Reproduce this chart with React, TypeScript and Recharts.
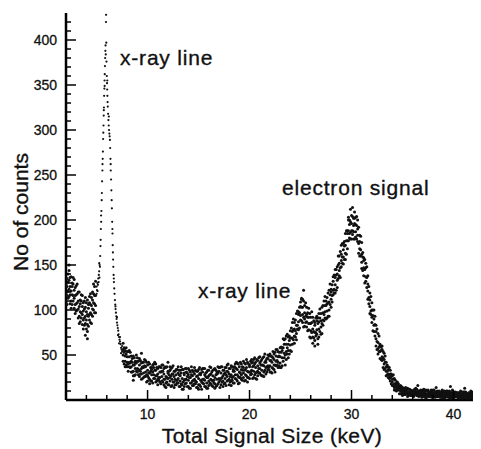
import React from 'react';
import { ScatterChart, Scatter, XAxis, YAxis } from 'recharts';

// rows: [keV, count, count, ...]
const lowRows: number[][] = [
  [2.0, 108, 128, 119, 140], [2.1, 135, 106, 126, 116], [2.2, 121, 140, 113, 131],
  [2.3, 144, 115, 133, 123], [2.4, 107, 126, 136, 117], [2.5, 121, 110, 137, 102],
  [2.6, 130, 117, 106, 126], [2.7, 110, 136, 116, 129], [2.8, 102, 122, 113, 134],
  [2.9, 125, 96, 116, 106], [3.0, 107, 127, 99, 117], [3.1, 129, 100, 118, 108],
  [3.2, 91, 110, 120, 101], [3.3, 104, 93, 120, 85], [3.4, 111, 98, 87, 107],
  [3.5, 91, 117, 97, 110], [3.6, 84, 104, 95, 116], [3.7, 108, 79, 99, 89],
  [3.8, 91, 110, 83, 101], [3.9, 114, 85, 103, 93], [4.0, 79, 98, 108, 89],
  [4.1, 95, 84, 111, 76], [4.2, 106, 93, 82, 102], [4.3, 89, 115, 95, 108],
  [4.4, 86, 106, 97, 118], [4.5, 114, 85, 105, 95], [4.6, 101, 120, 93, 111],
  [4.7, 129, 100, 118, 108], [4.8, 97, 116, 126, 107], [4.9, 116, 105, 132, 97],
];

// the x-ray spike, [keV, count]
const spikePoints: number[][] = [
  [5.0, 118], [5.0, 126], [5.04, 122], [5.08, 130], [5.1, 121], [5.13, 128], [5.16, 135],
  [5.2, 131], [5.22, 139], [5.25, 143], [5.26, 152], [5.28, 136], [5.3, 150], [5.33, 148],
  [5.35, 160], [5.38, 171], [5.4, 178], [5.42, 190], [5.44, 205], [5.45, 198], [5.47, 210],
  [5.5, 222], [5.52, 230], [5.54, 243], [5.57, 255], [5.58, 262], [5.6, 268], [5.62, 276],
  [5.64, 290], [5.66, 297], [5.68, 305], [5.7, 316], [5.71, 322], [5.72, 325], [5.74, 338],
  [5.76, 346], [5.78, 355], [5.79, 349], [5.8, 362], [5.82, 371], [5.84, 380], [5.86, 388],
  [5.88, 394], [5.9, 384], [5.92, 420], [5.93, 428], [5.95, 397], [5.97, 376], [6.0, 360],
  [6.02, 352], [6.04, 345], [6.05, 355], [6.06, 338], [6.08, 331], [6.1, 326], [6.13, 318],
  [6.16, 311], [6.19, 305], [6.2, 315], [6.22, 300], [6.25, 296], [6.28, 293], [6.31, 289],
  [6.33, 280], [6.36, 268], [6.38, 262], [6.39, 255], [6.42, 245], [6.45, 233], [6.48, 222],
  [6.5, 213], [6.53, 198], [6.55, 190], [6.56, 185], [6.58, 172], [6.6, 164], [6.62, 156],
  [6.64, 148], [6.67, 139], [6.69, 135], [6.7, 131], [6.73, 124], [6.76, 118], [6.8, 111],
  [6.83, 106], [6.85, 104], [6.86, 101], [6.9, 97], [6.93, 93], [6.96, 90], [7.0, 86],
  [7.0, 92], [7.04, 83], [7.08, 80], [7.1, 72], [7.12, 77], [7.16, 73], [7.2, 70], [7.2, 63],
  [7.25, 67], [7.3, 65], [7.3, 70], [7.35, 62], [7.4, 58], [7.4, 52], [7.45, 56], [7.5, 54],
  [7.5, 60],
];

const plateauRows: number[][] = [
  [7.6, 43, 56, 50, 63], [7.8, 55, 37, 49, 43], [8.0, 42, 54, 37, 48], [8.2, 55, 37, 48, 42],
  [8.4, 31, 43, 49, 37], [8.6, 39, 32, 49, 27], [8.8, 43, 35, 28, 41], [9.0, 31, 47, 35, 43],
  [9.2, 26, 39, 33, 46], [9.4, 41, 23, 35, 29], [9.6, 30, 42, 25, 36], [9.8, 44, 26, 37, 31],
  [10.0, 21, 33, 39, 27], [10.2, 30, 23, 40, 18], [10.4, 36, 28, 21, 34], [10.6, 24, 40, 28, 36],
  [10.8, 20, 33, 27, 40], [11.0, 35, 17, 29, 23], [11.2, 25, 37, 20, 31], [11.4, 39, 21, 32, 26],
  [11.6, 17, 29, 35, 23], [11.8, 26, 19, 36, 14], [12.0, 32, 24, 17, 30], [12.2, 21, 37, 25, 33],
  [12.4, 16, 29, 23, 36], [12.6, 32, 14, 26, 20], [12.8, 22, 34, 17, 28], [13.0, 37, 19, 30, 24],
  [13.2, 15, 27, 33, 21], [13.4, 24, 17, 34, 12], [13.6, 30, 22, 15, 28], [13.8, 19, 35, 23, 31],
  [14.0, 15, 28, 22, 35], [14.2, 31, 13, 25, 19], [14.4, 21, 33, 16, 27], [14.6, 36, 18, 29, 23],
  [14.8, 14, 26, 32, 20], [15.0, 24, 17, 34, 12], [15.2, 30, 22, 15, 28], [15.4, 19, 35, 23, 31],
  [15.6, 15, 28, 22, 35], [15.8, 31, 13, 25, 19], [16.0, 21, 33, 16, 27], [16.2, 36, 18, 29, 23],
  [16.4, 15, 27, 33, 21], [16.6, 25, 18, 35, 13], [16.8, 31, 23, 16, 29], [17.0, 20, 36, 24, 32],
  [17.2, 17, 30, 24, 37], [17.4, 33, 15, 27, 21], [17.6, 24, 36, 19, 30], [17.8, 39, 21, 32, 26],
  [18.0, 17, 29, 35, 23], [18.2, 28, 21, 38, 16], [18.4, 34, 26, 19, 32], [18.6, 24, 40, 28, 36],
  [18.8, 21, 34, 28, 41], [19.0, 37, 19, 31, 25], [19.2, 28, 40, 23, 34], [19.4, 43, 25, 36, 30],
  [19.6, 22, 34, 40, 28], [19.8, 32, 25, 42, 20], [20.0, 39, 31, 24, 37], [20.2, 29, 45, 33, 41],
  [20.4, 25, 38, 32, 45], [20.6, 42, 24, 36, 30], [20.8, 32, 44, 27, 38], [21.0, 48, 30, 41, 35],
  [21.2, 27, 39, 45, 33], [21.4, 38, 31, 48, 26], [21.6, 44, 36, 29, 42], [21.8, 34, 50, 38, 46],
  [22.0, 31, 44, 38, 51], [22.2, 48, 30, 42, 36], [22.4, 39, 51, 34, 45], [22.6, 56, 38, 49, 43],
  [22.8, 36, 48, 54, 42], [23.0, 48, 41, 58, 36],
];

const plateauMidRows: number[][] = [
  [7.7, 53, 40, 58], [7.9, 39, 51, 58], [8.1, 54, 40, 32], [8.3, 41, 53, 36], [8.5, 46, 31, 42],
  [8.7, 27, 39, 47], [8.9, 41, 50, 32], [9.1, 28, 34, 43], [9.3, 44, 29, 32], [9.5, 37, 24, 42],
  [9.7, 26, 38, 45], [9.9, 42, 28, 20], [10.1, 30, 42, 25], [10.3, 36, 21, 32], [10.5, 19, 31, 39],
  [10.7, 33, 42, 24], [10.9, 21, 27, 36], [11.1, 37, 22, 25], [11.3, 31, 18, 36], [11.5, 20, 32, 39],
  [11.7, 37, 23, 15], [11.9, 25, 37, 20], [12.1, 32, 17, 28], [12.3, 15, 27, 35], [12.5, 29, 38, 20],
  [12.7, 17, 23, 32], [12.9, 34, 19, 22], [13.1, 28, 15, 33], [13.3, 18, 30, 37], [13.5, 34, 20, 12],
  [13.7, 23, 35, 18], [13.9, 30, 15, 26], [14.1, 13, 25, 33], [14.3, 28, 37, 19], [14.5, 16, 22, 31],
  [14.7, 33, 18, 21], [14.9, 27, 14, 32], [15.1, 17, 29, 36], [15.3, 34, 20, 12], [15.5, 23, 35, 18],
  [15.7, 30, 15, 26], [15.9, 13, 25, 33], [16.1, 28, 37, 19], [16.3, 16, 22, 31], [16.5, 34, 19, 22],
  [16.7, 28, 15, 33], [16.9, 18, 30, 37], [17.1, 36, 22, 14], [17.3, 25, 37, 20], [17.5, 33, 18, 29],
  [17.7, 16, 28, 36], [17.9, 31, 40, 22], [18.1, 20, 26, 35], [18.3, 37, 22, 25], [18.5, 32, 19, 37],
  [18.7, 23, 35, 42], [18.9, 40, 26, 18], [19.1, 30, 42, 25], [19.3, 37, 22, 33], [19.5, 21, 33, 41],
  [19.7, 36, 45, 27], [19.9, 25, 31, 40], [20.1, 43, 28, 31], [20.3, 37, 24, 42], [20.5, 28, 40, 47],
  [20.7, 45, 31, 23], [20.9, 35, 47, 30], [21.1, 43, 28, 39], [21.3, 27, 39, 47], [21.5, 42, 51, 33],
  [21.7, 31, 37, 46], [21.9, 49, 34, 37], [22.1, 44, 31, 49], [22.3, 35, 47, 54], [22.5, 53, 39, 31],
  [22.7, 44, 56, 39], [22.9, 53, 38, 49],
];

const electronRows: number[][] = [
  [23.2, 58, 47, 38, 55], [23.4, 47, 67, 52, 62], [23.6, 45, 62, 54, 71], [23.8, 70, 47, 62, 55],
  [24.0, 61, 77, 55, 69], [24.2, 86, 62, 76, 69], [24.4, 63, 79, 86, 71], [24.6, 83, 74, 96, 67],
  [24.8, 98, 87, 78, 95], [25.0, 89, 109, 94, 104], [25.2, 86, 103, 95, 112], [25.4, 105, 82, 97, 90],
  [25.6, 87, 103, 81, 95], [25.8, 102, 78, 92, 85], [26.0, 69, 85, 92, 77], [26.2, 79, 70, 92, 63],
  [26.4, 86, 75, 66, 83], [26.6, 73, 93, 78, 88], [26.8, 70, 87, 79, 96], [27.0, 96, 73, 88, 81],
  [27.2, 89, 105, 83, 97], [27.4, 115, 91, 105, 98], [27.6, 91, 107, 114, 99], [27.8, 109, 100, 122, 93],
  [28.0, 123, 112, 103, 120], [28.2, 117, 137, 122, 132], [28.4, 119, 136, 128, 145], [28.6, 148, 125, 140, 133],
  [28.8, 144, 160, 138, 152], [29.0, 172, 148, 162, 155], [29.2, 151, 167, 174, 159], [29.4, 172, 163, 185, 156],
  [29.6, 188, 177, 168, 185], [29.8, 180, 200, 185, 195], [30.0, 179, 196, 188, 205], [30.2, 202, 179, 194, 187],
  [30.4, 187, 203, 181, 195], [30.6, 200, 176, 190, 183], [30.8, 160, 176, 183, 168], [31.0, 162, 153, 175, 146],
  [31.2, 158, 147, 138, 155], [31.4, 132, 152, 137, 147], [31.6, 112, 129, 121, 138], [31.8, 119, 96, 111, 104],
  [32.0, 92, 108, 86, 100], [32.2, 100, 76, 90, 83], [32.4, 60, 76, 83, 68], [32.6, 64, 57, 74, 51],
  [32.8, 62, 54, 46, 60], [33.0, 44, 60, 48, 56], [33.2, 34, 45, 40, 52], [33.4, 42, 27, 37, 32],
  [33.6, 29, 37, 25, 34], [33.8, 33, 21, 29, 25], [34.0, 16, 23, 27, 20], [34.2, 18, 14, 24, 11],
  [34.4, 19, 14, 10, 17], [34.6, 11, 18, 13, 16], [34.8, 7, 13, 10, 16], [35.0, 14, 5, 10, 8],
];

const electronMidRows: number[][] = [
  [23.1, 53, 36, 59], [23.3, 43, 58, 68], [23.5, 68, 50, 39], [23.7, 58, 73, 51], [23.9, 71, 51, 66],
  [24.1, 54, 69, 80], [24.3, 78, 90, 67], [24.5, 70, 77, 89], [24.7, 99, 79, 83], [24.9, 97, 80, 103],
  [25.1, 88, 103, 113], [25.3, 110, 92, 81], [25.5, 93, 108, 86], [25.7, 97, 77, 92], [25.9, 70, 85, 96],
  [26.1, 86, 98, 75], [26.3, 69, 76, 88], [26.5, 91, 71, 75], [26.7, 85, 68, 91], [26.9, 76, 91, 101],
  [27.1, 103, 85, 74], [27.3, 95, 110, 88], [27.5, 110, 90, 105], [27.7, 93, 108, 119], [27.9, 117, 129, 106],
  [28.1, 109, 116, 128], [28.3, 139, 119, 123], [28.5, 139, 122, 145], [28.7, 135, 150, 160], [28.9, 165, 147, 136],
  [29.1, 159, 174, 152], [29.3, 176, 156, 171], [29.5, 162, 177, 188], [29.7, 188, 200, 177], [29.9, 179, 186, 198],
  [30.1, 204, 184, 188], [30.3, 196, 179, 202], [30.5, 179, 194, 204], [30.7, 192, 174, 163], [30.9, 167, 182, 160],
  [31.1, 164, 144, 159], [31.3, 130, 145, 156], [31.5, 136, 148, 125], [31.7, 107, 114, 126], [31.9, 115, 95, 99],
  [32.1, 94, 77, 100], [32.3, 71, 84, 93], [32.5, 79, 65, 56], [32.7, 59, 71, 54], [32.9, 59, 45, 55],
  [33.1, 36, 47, 54], [33.3, 42, 49, 35], [33.5, 28, 32, 39], [33.7, 36, 24, 27], [33.9, 26, 18, 29],
  [34.1, 16, 23, 28], [34.3, 22, 15, 11], [34.5, 14, 20, 11], [34.7, 15, 7, 13], [34.9, 7, 11, 15],
];

const tailRows: number[][] = [
  [35.2, 8, 12, 6, 10], [35.4, 13, 7, 11, 9], [35.6, 5, 9, 12, 7], [35.8, 8, 6, 11, 5],
  [36.0, 10, 7, 5, 9], [36.2, 6, 12, 8, 10], [36.4, 5, 9, 7, 12], [36.6, 10, 4, 8, 6],
  [36.8, 6, 11, 5, 9], [37.0, 11, 5, 9, 7], [37.2, 4, 8, 10, 6], [37.4, 7, 5, 10, 4],
  [37.6, 9, 6, 4, 8], [37.8, 5, 11, 7, 9], [38.0, 4, 8, 6, 11], [38.2, 9, 3, 7, 5],
  [38.4, 5, 10, 4, 8], [38.6, 10, 5, 8, 6], [38.8, 3, 7, 9, 5], [39.0, 6, 4, 9, 3],
  [39.2, 8, 5, 3, 7], [39.4, 4, 10, 6, 8], [39.6, 3, 7, 5, 10], [39.8, 8, 2, 6, 4],
  [40.0, 5, 9, 3, 7], [40.2, 9, 4, 7, 5], [40.4, 3, 6, 8, 5], [40.6, 5, 3, 8, 3],
  [40.8, 7, 4, 2, 6], [41.0, 3, 9, 5, 7], [41.2, 2, 6, 4, 9], [41.4, 7, 2, 5, 3],
  [41.6, 4, 8, 2, 6], [41.8, 9, 3, 7, 5], [42.0, 2, 6, 8, 4], [42.2, 5, 3, 8, 2],
  [42.4, 6, 4, 2, 5], [42.6, 3, 8, 4, 6],
];

const tailMidRows: number[][] = [
  [35.1, 11, 6, 13], [35.3, 6, 11, 14], [35.5, 13, 7, 4], [35.7, 8, 12, 6], [35.9, 10, 5, 9],
  [36.1, 4, 8, 11], [36.3, 9, 13, 6], [36.5, 5, 7, 10], [36.7, 10, 5, 6], [36.9, 8, 3, 10],
  [37.1, 4, 9, 12], [37.3, 11, 5, 2], [37.5, 7, 11, 5], [37.7, 9, 4, 8], [37.9, 3, 7, 10],
  [38.1, 8, 11, 5], [38.3, 4, 6, 9], [38.5, 9, 4, 5], [38.7, 7, 3, 9], [38.9, 3, 8, 11],
  [39.1, 10, 4, 2], [39.3, 6, 10, 4], [39.5, 8, 3, 7], [39.7, 2, 6, 9], [39.9, 7, 11, 4],
  [40.1, 3, 5, 8], [40.3, 8, 4, 5], [40.5, 6, 2, 8], [40.7, 3, 7, 10], [40.9, 9, 3, 2],
  [41.1, 5, 9, 3], [41.3, 7, 2, 6], [41.5, 2, 5, 8], [41.7, 6, 10, 3], [41.9, 2, 4, 7],
  [42.1, 8, 3, 4], [42.3, 6, 2, 8], [42.5, 2, 6, 9],
];

// stray counts off the main band
const strayPoints: number[][] = [
  [2.3, 150], [3.9, 72], [4.1, 68], [12.0, 42], [25.3, 122], [25.1, 112], [26.4, 60],
  [26.7, 62], [29.7, 203], [29.9, 212], [30.1, 214], [30.3, 209], [36.5, 16], [38.3, 14],
  [39.7, 15], [41.1, 13], [8.6, 22], [9.4, 52],
];

const xTicks = [4, 6, 8, 10, 12, 14, 16, 18, 20, 22, 24, 26, 28, 30, 32, 34, 36, 38, 40, 42];
const xLabels = [10, 20, 30, 40];
const yTicks = [
  10, 20, 30, 40, 50, 60, 70, 80, 90, 100, 110, 120, 130, 140, 150, 160, 170, 180, 190, 200, 210,
  220, 230, 240, 250, 260, 270, 280, 290, 300, 310, 320, 330, 340, 350, 360, 370, 380, 390, 400, 410, 420,
];
const yLabels = [50, 100, 150, 200, 250, 300, 350, 400];

const allRows = [
  ...lowRows, ...plateauRows, ...plateauMidRows, ...electronRows, ...electronMidRows,
  ...tailRows, ...tailMidRows,
];
const bandPoints = [
  ...allRows.flatMap(([x, ...ys]) => ys.map((y) => ({ x, y }))),
  ...strayPoints.map(([x, y]) => ({ x, y })),
];
const peakPoints = spikePoints.map(([x, y]) => ({ x, y }));

const FONT = '"Liberation Sans", Arial, Helvetica, sans-serif';

const BandDot = (p: any) => <circle cx={p.cx} cy={p.cy} r={1.5} fill="#111" />;
const PeakDot = (p: any) => <circle cx={p.cx} cy={p.cy} r={1.1} fill="#111" />;

const XTick = ({ x, y, payload }: any) => {
  const major = xLabels.includes(payload.value);
  return (
    <g>
      <line x1={x} y1={y} x2={x} y2={y - (major ? 10 : 5)} stroke="#000" strokeWidth={1.5} />
      {major && (
        <text x={x} y={y + 19} textAnchor="middle" fontSize={14} fontFamily={FONT} fill="#111" stroke="#111" strokeWidth={0.3}>
          {payload.value}
        </text>
      )}
    </g>
  );
};

const YTick = ({ x, y, payload }: any) => {
  const major = yLabels.includes(payload.value);
  return (
    <g>
      <line x1={x} y1={y} x2={x + (major ? 10 : 5)} y2={y} stroke="#000" strokeWidth={1.5} />
      {major && (
        <text x={x - 9} y={y + 5} textAnchor="end" fontSize={14} fontFamily={FONT} fill="#111" stroke="#111" strokeWidth={0.3}>
          {payload.value}
        </text>
      )}
    </g>
  );
};

export default function App() {
  return (
    <div style={{ position: 'relative', width: 481, height: 449, margin: '-8px 0 0 -8px', background: '#fff' }}>
      <ScatterChart width={481} height={449} margin={{ top: 13, right: 0, bottom: 0, left: 0 }}>
        <XAxis
          type="number"
          dataKey="x"
          domain={[2, 42.7]}
          ticks={xTicks}
          allowDataOverflow
          height={49}
          tickSize={0}
          tickMargin={0}
          tick={<XTick />}
          axisLine={{ stroke: '#000', strokeWidth: 2.5 }}
          interval={0}
        />
        <YAxis
          type="number"
          dataKey="y"
          domain={[0, 430]}
          ticks={yTicks}
          allowDataOverflow
          width={66}
          tickSize={0}
          tickMargin={0}
          tick={<YTick />}
          axisLine={{ stroke: '#000', strokeWidth: 2.5 }}
          interval={0}
        />
        <Scatter data={bandPoints} shape={BandDot} isAnimationActive={false} />
        <Scatter data={peakPoints} shape={PeakDot} isAnimationActive={false} />
      </ScatterChart>
      <svg
        width={481}
        height={449}
        style={{ position: 'absolute', left: 0, top: 0, pointerEvents: 'none' }}
        fontFamily={FONT}
        fill="#111"
        stroke="#111"
        strokeWidth={0.35}
      >
        <text x={120} y={65} fontSize={21} letterSpacing={0.8}>x-ray line</text>
        <text x={198} y={298} fontSize={21} letterSpacing={0.8}>x-ray line</text>
        <text x={282} y={195} fontSize={21} letterSpacing={0.8}>electron signal</text>
        <text x={272} y={443} fontSize={21} textAnchor="middle" letterSpacing={0.4}>
          Total Signal Size (keV)
        </text>
        <text x={28} y={212} fontSize={21} textAnchor="middle" transform="rotate(-90 28 212)">
          No of counts
        </text>
      </svg>
    </div>
  );
}
